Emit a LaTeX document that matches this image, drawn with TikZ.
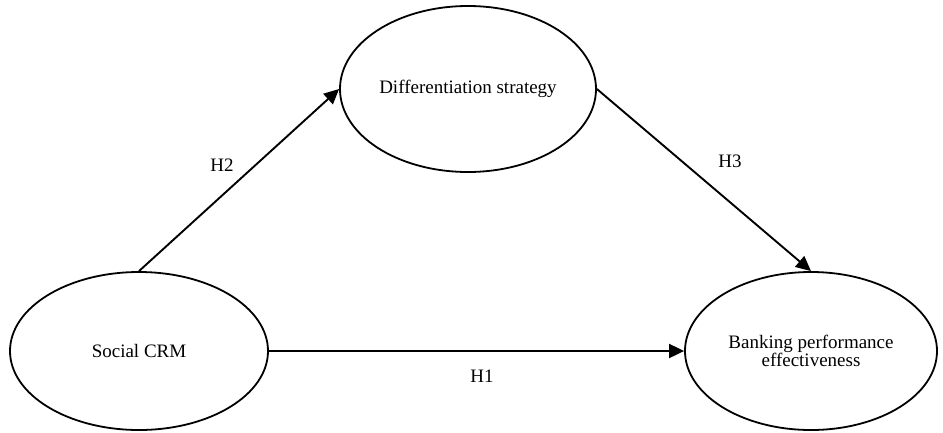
\documentclass[tikz,border=0pt]{standalone}
\usepackage{fontspec}
\setmainfont{Liberation Serif}
\usetikzlibrary{shapes.geometric,arrows.meta}
\begin{document}
\begin{tikzpicture}[x=1pt,y=-1pt,
  construct/.style={draw, line width=1.8pt, ellipse, inner sep=0pt, align=center,
    font=\fontsize{19}{16}\selectfont},
  path/.style={line width=1.9pt, -{Triangle[length=15pt,width=14pt]}},
  hlabel/.style={font=\fontsize{19}{22}\selectfont, inner sep=0pt}]
\useasboundingbox (0,0) rectangle (943,432);
\node[construct, minimum width=256pt, minimum height=166pt] (diff) at (468,89) {Differentiation strategy};
\node[construct, minimum width=258pt, minimum height=158pt] (scrm) at (139,351) {Social CRM};
\node[construct, minimum width=252pt, minimum height=158pt] (bank) at (811,351) {Banking performance\\effectiveness};
\draw[path] (scrm.north) -- (diff.west);
\draw[path] (diff.east) -- (bank.north);
\draw[path] (scrm.east) -- (bank.west);
\node[hlabel] (h2) at (222,165) {H2};
\node[hlabel] (h3) at (730,161) {H3};
\node[hlabel] (h1) at (482,376) {H1};
\end{tikzpicture}
\end{document}
